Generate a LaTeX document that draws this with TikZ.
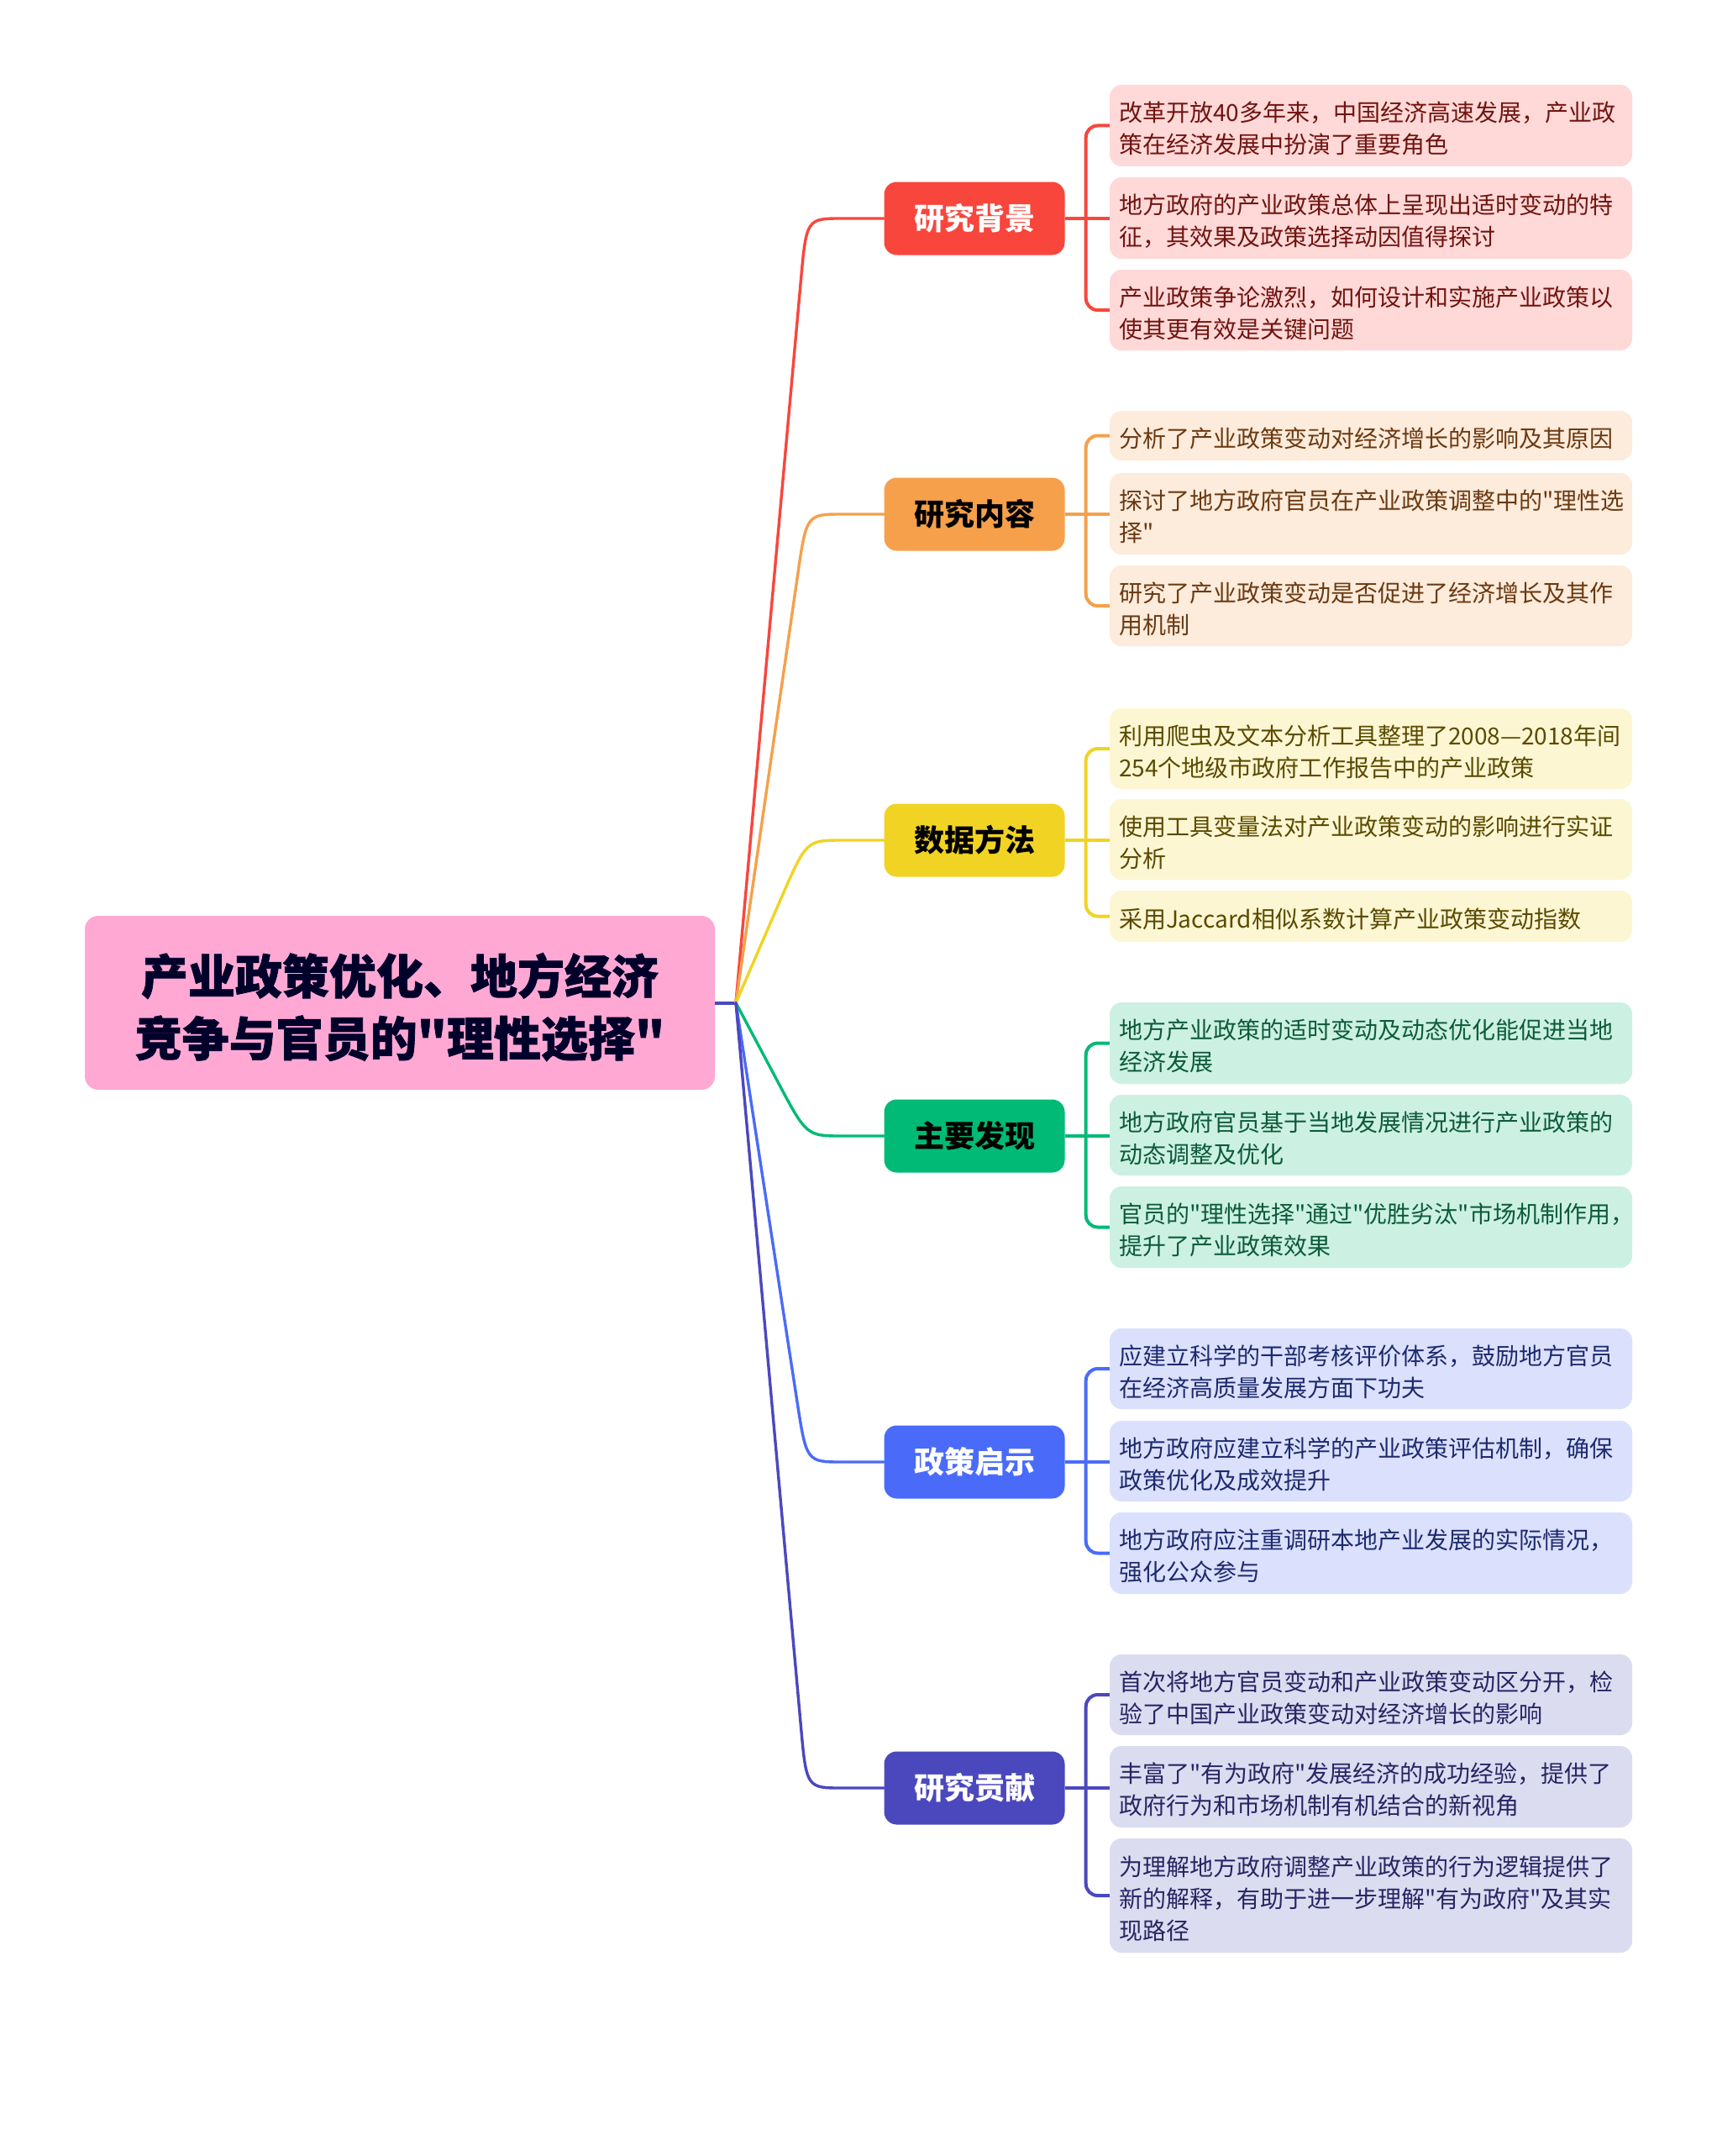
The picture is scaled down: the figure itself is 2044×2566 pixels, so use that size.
\documentclass[tikz,border=0pt]{standalone}
\usepackage{fontspec}
\setmainfont{Noto Sans CJK SC}[Ligatures=ResetAll]
\newfontfamily\cjk{Noto Sans CJK SC}
\newfontfamily\cjkheavy{Noto Sans CJK SC}[BoldFeatures={FakeBold=1.3}]
\usetikzlibrary{calc}
\newcommand\leaftop{\rule{0pt}{31pt}}
\newcommand\roottop{\rule{0pt}{59pt}}
\definecolor{rootbg}{HTML}{FFA8D4}
\definecolor{roottx}{HTML}{00002A}
\definecolor{cA}{HTML}{F9463D}
\definecolor{cB}{HTML}{F6A04B}
\definecolor{cC}{HTML}{F1D323}
\definecolor{cD}{HTML}{00BA75}
\definecolor{cE}{HTML}{4A6BFA}
\definecolor{cF}{HTML}{4B48BE}
\definecolor{lA}{HTML}{FFD9D8}
\definecolor{lB}{HTML}{FDEBDB}
\definecolor{lC}{HTML}{FDF6D3}
\definecolor{lD}{HTML}{CCF1E3}
\definecolor{lE}{HTML}{DBE1FD}
\definecolor{lF}{HTML}{DCDCF1}
\definecolor{tA}{HTML}{701410}
\definecolor{tB}{HTML}{6A3A12}
\definecolor{tC}{HTML}{5A4A00}
\definecolor{tD}{HTML}{0D5A3B}
\definecolor{tE}{HTML}{1E2A6E}
\definecolor{tF}{HTML}{272563}
\begin{document}
\begin{tikzpicture}[x=1pt,y=-1pt,
  rootbox/.style={fill=rootbg, rounded corners=16pt, minimum width=750pt, minimum height=207pt,
    align=center, inner sep=0pt, text=roottx, font=\cjkheavy\fontsize{56}{74}\selectfont\bfseries},
  topic/.style={rounded corners=15pt, minimum width=215pt, minimum height=87pt, inner sep=0pt,
    font=\cjk\fontsize{36}{40}\selectfont\bfseries},
  leaf/.style={rounded corners=14pt, text width=600pt, inner xsep=11pt, inner ysep=0pt,
    align=left, font=\cjk\fontsize{28}{38}\selectfont, minimum height=#1},
  branch/.style={line width=3.4pt, line cap=round},
  brk/.style={line width=4pt, rounded corners=14pt}
]
\fill[white] (0,0) rectangle (2044,2566);
\useasboundingbox (0,0) rectangle (2044,2566);

% root
\node[rootbox] (root) at (476,1193.5) {\roottop 产业政策优化、地方经济\\竞争与官员的"理性选择"};
\coordinate (hub) at (876,1193.5);
\draw[line width=4pt, cF] (root.east) -- (hub);

% topics
\node[topic, fill=cA, text=white] (t1) at (1160,260) {研究背景};
\node[topic, fill=cB, text=black] (t2) at (1160,612) {研究内容};
\node[topic, fill=cC, text=black] (t3) at (1160,1000) {数据方法};
\node[topic, fill=cD, text=black] (t4) at (1160,1352) {主要发现};
\node[topic, fill=cE, text=white] (t5) at (1160,1740) {政策启示};
\node[topic, fill=cF, text=white] (t6) at (1160,2128) {研究贡献};

% branches
\draw[branch, cA] (hub) -- (953.3,334.7) .. controls (960,260) .. (1003,260) -- (t1.west);
\draw[branch, cB] (hub) -- (949.3,686.3) .. controls (960,612) .. (1003,612) -- (t2.west);
\draw[branch, cC] (hub) -- (930,1068.8) .. controls (960,1000) .. (1003,1000) -- (t3.west);
\draw[branch, cD] (hub) -- (925,1285.7) .. controls (960,1352) .. (1003,1352) -- (t4.west);
\draw[branch, cE] (hub) -- (948.6,1665.9) .. controls (960,1740) .. (1003,1740) -- (t5.west);
\draw[branch, cF] (hub) -- (953.3,2053.3) .. controls (960,2128) .. (1003,2128) -- (t6.west);

% leaves group A
\node[leaf=97pt, fill=lA, text=tA] (a1) at (1632,149.5) {\leaftop 改革开放40多年来，中国经济高速发展，产业政\\策在经济发展中扮演了重要角色};
\node[leaf=97pt, fill=lA, text=tA] (a2) at (1632,259.5) {\leaftop 地方政府的产业政策总体上呈现出适时变动的特\\征，其效果及政策选择动因值得探讨};
\node[leaf=96pt, fill=lA, text=tA] (a3) at (1632,369) {\leaftop 产业政策争论激烈，如何设计和实施产业政策以\\使其更有效是关键问题};
% group B
\node[leaf=59pt, fill=lB, text=tB] (b1) at (1632,518.5) {\leaftop 分析了产业政策变动对经济增长的影响及其原因};
\node[leaf=97pt, fill=lB, text=tB] (b2) at (1632,611.5) {\leaftop 探讨了地方政府官员在产业政策调整中的"理性选\\择"};
\node[leaf=96pt, fill=lB, text=tB] (b3) at (1632,721) {\leaftop 研究了产业政策变动是否促进了经济增长及其作\\用机制};
% group C
\node[leaf=96pt, fill=lC, text=tC] (c1) at (1632,891) {\leaftop 利用爬虫及文本分析工具整理了2008—2018年间\\254个地级市政府工作报告中的产业政策};
\node[leaf=96pt, fill=lC, text=tC] (c2) at (1632,999) {\leaftop 使用工具变量法对产业政策变动的影响进行实证\\分析};
\node[leaf=61pt, fill=lC, text=tC] (c3) at (1632,1090.5) {\leaftop 采用Jaccard相似系数计算产业政策变动指数};
% group D
\node[leaf=97pt, fill=lD, text=tD] (d1) at (1632,1241.5) {\leaftop 地方产业政策的适时变动及动态优化能促进当地\\经济发展};
\node[leaf=96pt, fill=lD, text=tD] (d2) at (1632,1351) {\leaftop 地方政府官员基于当地发展情况进行产业政策的\\动态调整及优化};
\node[leaf=97pt, fill=lD, text=tD] (d3) at (1632,1460.5) {\leaftop 官员的"理性选择"通过"优胜劣汰"市场机制作用，\\提升了产业政策效果};
% group E
\node[leaf=96pt, fill=lE, text=tE] (e1) at (1632,1629) {\leaftop 应建立科学的干部考核评价体系，鼓励地方官员\\在经济高质量发展方面下功夫};
\node[leaf=96pt, fill=lE, text=tE] (e2) at (1632,1739) {\leaftop 地方政府应建立科学的产业政策评估机制，确保\\政策优化及成效提升};
\node[leaf=97pt, fill=lE, text=tE] (e3) at (1632,1848.5) {\leaftop 地方政府应注重调研本地产业发展的实际情况，\\强化公众参与};
% group F
\node[leaf=96pt, fill=lF, text=tF] (f1) at (1632,2017) {\leaftop 首次将地方官员变动和产业政策变动区分开，检\\验了中国产业政策变动对经济增长的影响};
\node[leaf=97pt, fill=lF, text=tF] (f2) at (1632,2126.5) {\leaftop 丰富了"有为政府"发展经济的成功经验，提供了\\政府行为和市场机制有机结合的新视角};
\node[leaf=136pt, fill=lF, text=tF] (f3) at (1632,2256) {\leaftop 为理解地方政府调整产业政策的行为逻辑提供了\\新的解释，有助于进一步理解"有为政府"及其实\\现路径};

% brackets
\foreach \t/\x/\c in {t1/a/cA, t2/b/cB, t3/c/cC, t4/d/cD, t5/e/cE, t6/f/cF}{
  \coordinate (j) at ($(\t.east)+(25,0)$);
  \draw[brk, \c] (\t.east) -- (\t.east -| \x2.west);
  \draw[brk, \c] (\x1.west) -- (\x1.west -| j) -- (\x3.west -| j) -- (\x3.west);
}
\end{tikzpicture}
\end{document}
